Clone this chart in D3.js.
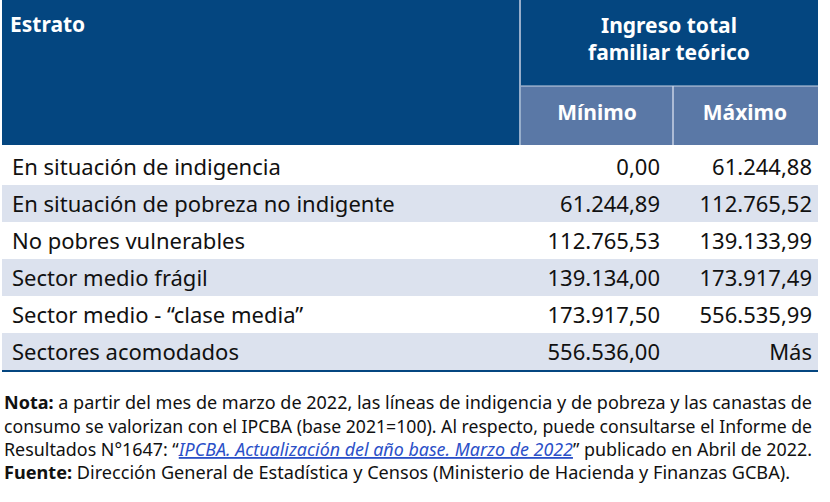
<!DOCTYPE html>
<html><head><meta charset="utf-8">
<script src="https://cdn.jsdelivr.net/npm/d3@7"></script>
<style>body{margin:0;background:#fff}text{font-family:"Liberation Sans Narrow","Noto Sans",sans-serif}</style>
</head><body><div id="chart"></div>
<script>
const estratos = ["En situación de indigencia","En situación de pobreza no indigente","No pobres vulnerables","Sector medio frágil","Sector medio - “clase media”","Sectores acomodados"];
const minimos = ["0,00","61.244,89","112.765,53","139.134,00","173.917,50","556.536,00"];
const maximos = ["61.244,88","112.765,52","139.133,99","173.917,49","556.535,99","Más"];

const svg = d3.select("#chart").append("svg").attr("width",830).attr("height",502);
const dark = "#044680", mid = "#5a78a6", light = "#dce2ee";

// header
svg.append("rect").attr("x",2).attr("y",0).attr("width",816).attr("height",145).attr("fill",dark);
svg.append("line").attr("x1",520).attr("x2",520).attr("y1",0).attr("y2",145).attr("stroke","#c8d2e4").attr("stroke-width",1.5);
svg.append("rect").attr("x",521).attr("y",86).attr("width",297).attr("height",59).attr("fill",mid);
svg.append("line").attr("x1",521).attr("x2",818).attr("y1",86).attr("y2",86).attr("stroke","#c8d2e4").attr("stroke-width",1);
svg.append("line").attr("x1",673).attr("x2",673).attr("y1",86).attr("y2",145).attr("stroke","#c8d2e4").attr("stroke-width",1.5);

const hdr = (x,y,t,anchor) => svg.append("text").attr("x",x).attr("y",y).attr("text-anchor",anchor)
  .attr("fill","#fff").attr("font-weight","bold").attr("font-size",21).text(t);
hdr(10,32,"Estrato","start");
hdr(669,33,"Ingreso total","middle");
hdr(669,60,"familiar teórico","middle");
hdr(597,120,"Mínimo","middle");
hdr(745,120,"Máximo","middle");

// rows
const y = d3.scaleBand().domain(estratos).range([148,370]);
const rows = svg.append("g").selectAll("g").data(estratos).join("g")
  .attr("transform",d=>`translate(0,${y(d)})`);
rows.append("rect").attr("x",2).attr("width",816).attr("height",y.bandwidth())
  .attr("fill",(d,i)=>i%2?light:"#fff");
const cy = y.bandwidth()/2 + 8;
rows.append("text").attr("x",12).attr("y",cy).attr("font-size",22).attr("fill","#111").text(d=>d);
rows.append("text").attr("x",660).attr("y",cy).attr("text-anchor","end").attr("font-size",22).attr("fill","#111").text((d,i)=>minimos[i]);
rows.append("text").attr("x",812).attr("y",cy).attr("text-anchor","end").attr("font-size",22).attr("fill","#111").text((d,i)=>maximos[i]);
svg.append("line").attr("x1",2).attr("x2",818).attr("y1",371).attr("y2",371).attr("stroke",dark).attr("stroke-width",2);

// notes
const note = (yy,len,parts) => {
  const t = svg.append("text").attr("x",4).attr("y",yy).attr("font-size",18).attr("fill","#111")
    .attr("textLength",len).attr("lengthAdjust","spacingAndGlyphs");
  parts.forEach(p=>{
    const s = t.append("tspan").text(p.t);
    if(p.b) s.attr("font-weight","bold");
    if(p.l) s.attr("fill","#2b50c8").attr("font-style","italic").attr("text-decoration","underline");
  });
};
note(409,808,[{t:"Nota:",b:1},{t:"  a partir del mes de marzo de 2022, las líneas de indigencia y de pobreza y las canastas de"}]);
note(433,808,[{t:"consumo se valorizan con el IPCBA (base 2021=100). Al respecto, puede consultarse el Informe de"}]);
note(456,808,[{t:"Resultados N°1647: “"},{t:"IPCBA. Actualización del año base. Marzo de 2022",l:1},{t:"” publicado en Abril de 2022."}]);
note(479,786,[{t:"Fuente:",b:1},{t:" Dirección General de Estadística y Censos (Ministerio de Hacienda y Finanzas GCBA)."}]);
</script></body></html>
